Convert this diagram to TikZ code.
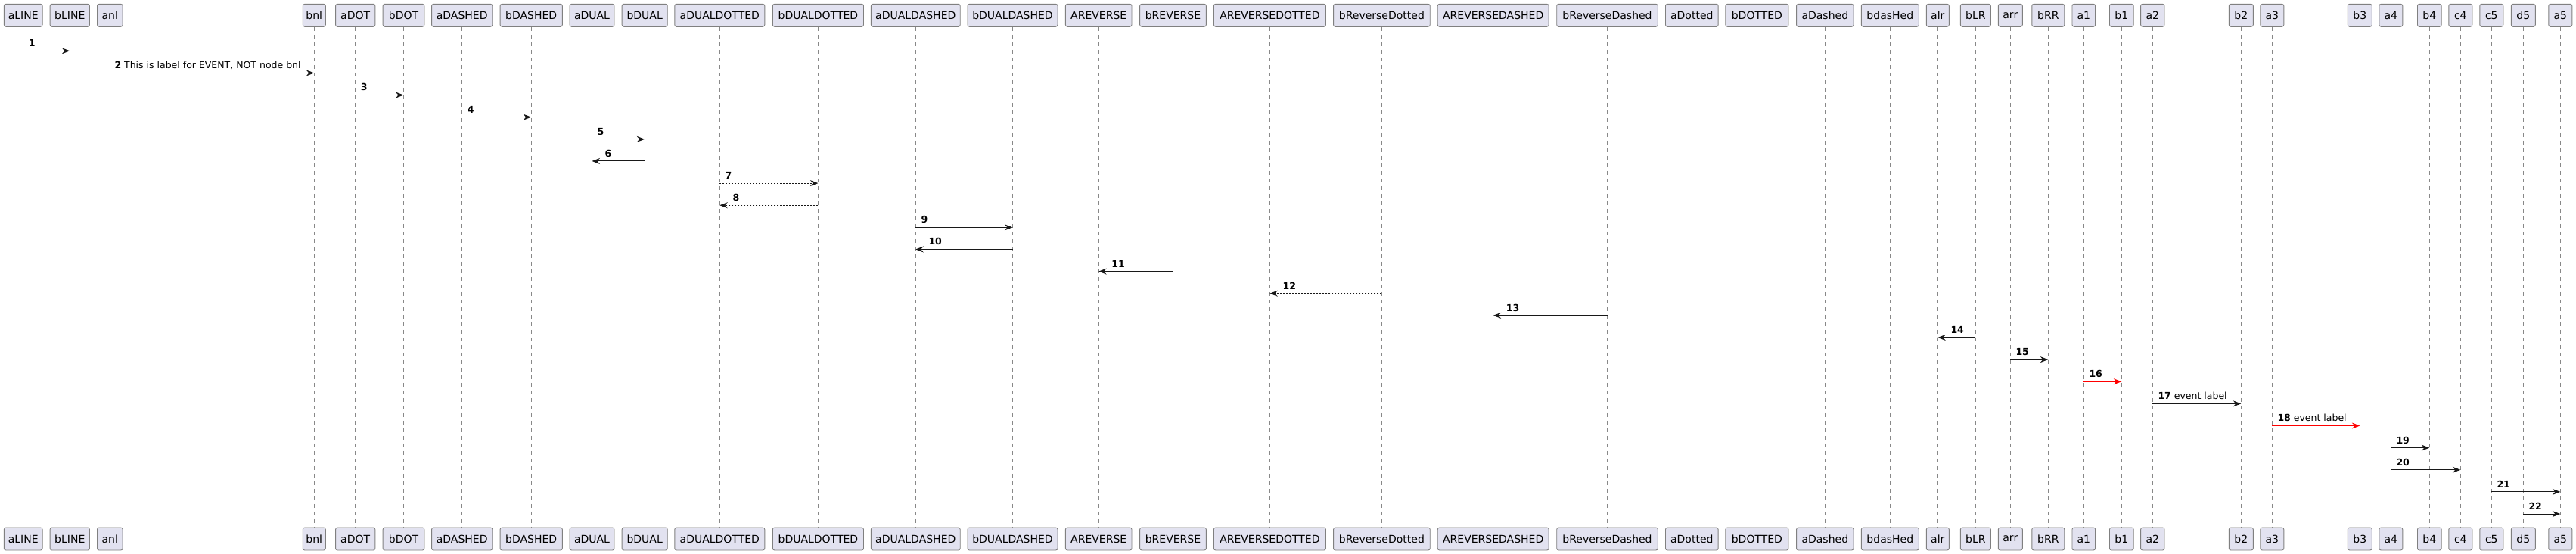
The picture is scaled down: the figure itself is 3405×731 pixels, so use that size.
\documentclass[tikz,border=0pt]{standalone}
\usepackage{fontspec}
\setmainfont{DejaVu Sans}
\usetikzlibrary{arrows.meta}
\definecolor{pfill}{HTML}{E2E2F0}
\definecolor{pborder}{HTML}{808080}
\definecolor{lline}{HTML}{888888}
\definecolor{ink}{HTML}{181818}
\definecolor{hotred}{HTML}{FF0000}
\newcommand\seqmsg[7]{%
  \pgfmathsetmacro\yy{67.3+(#1-1)*29.13}%
  \draw[#4] (top-#2.center |- 0,\yy) -- (top-#3.center |- 0,\yy);
  \node[lbl, xshift=#7pt, yshift=5.6pt] (lab#1) at (top-#6.center |- 0,\yy) {\textbf{#1}#5};
}
\begin{document}
\begin{tikzpicture}[x=1pt,y=-1pt,
  actor/.style={draw=pborder, fill=pfill, line width=0.9pt, rounded corners=2.5pt,
    minimum height=30pt, inner xsep=0pt, inner ysep=0pt,
    font=\fontsize{14}{16}\selectfont, text=black},
  lifeline/.style={draw=lline, line width=0.9pt, dash pattern=on 5pt off 5pt},
  msg/.style={draw=ink, line width=1pt, -{Stealth[length=10.5pt,width=8pt,inset=3.5pt]}},
  dotmsg/.style={msg, dash pattern=on 2pt off 2pt},
  redmsg/.style={msg, draw=hotred, fill=hotred},
  lbl/.style={anchor=base west, inner sep=0pt, font=\fontsize{12.5}{14}\selectfont, text=black}
]
\useasboundingbox (0,0) rectangle (3405,731);
\foreach \n/\x/\w in {
  aLINE/30.7/50.7, bLINE/92.3/52.3, anl/145.3/33.7, bnl/415.3/30,
  aDOT/469.7/52.3, bDOT/533.5/54.7, aDASHED/610.7/80.3, bDASHED/702.2/82.3,
  aDUAL/782.5/58.9, bDUAL/852.2/60.1, aDUALDOTTED/951.3/119, bDUALDOTTED/1081.4/120.2,
  aDUALDASHED/1210.3/117.8, bDUALDASHED/1338.5/119, AREVERSE/1452.2/87.6, bREVERSE/1550.5/87.7,
  AREVERSEDOTTED/1678.4/148.1, bReverseDotted/1826.4/127.7, AREVERSEDASHED/1973.7/146.9,
  bReverseDashed/2124.5/133.6, aDotted/2236.3/69.7, bDOTTED/2322.4/83.1, aDashed/2412.3/75.5,
  bdasHed/2498.3/76, alr/2561.3/30, bLR/2611.3/40, arr/2657.3/32, bRR/2707.3/43,
  a1/2754.3/30.7, b1/2804.3/31.7, a2/2845.3/31.4, b2/2962.3/32, a3/3003.3/31,
  b3/3119.3/32, a4/3160.3/31, b4/3211.3/31.7, c4/3252.3/31, c5/3293.3/31,
  d5/3335.3/32, a5/3384.3/31} {
  \node[actor, minimum width=\w pt] (top-\n) at (\x,20.3) {\n};
  \node[actor, minimum width=\w pt] (bot-\n) at (\x,712) {\n};
  \draw[lifeline] (top-\n.south) -- (bot-\n.north);
}
\seqmsg{1}{aLINE}{bLINE}{msg}{}{aLINE}{7}
\seqmsg{2}{anl}{bnl}{msg}{ This is label for EVENT, NOT node bnl}{anl}{6}
\seqmsg{3}{aDOT}{bDOT}{dotmsg}{}{aDOT}{7}
\seqmsg{4}{aDASHED}{bDASHED}{msg}{}{aDASHED}{7}
\seqmsg{5}{aDUAL}{bDUAL}{msg}{}{aDUAL}{7}
\seqmsg{6}{bDUAL}{aDUAL}{msg}{}{aDUAL}{17}
\seqmsg{7}{aDUALDOTTED}{bDUALDOTTED}{dotmsg}{}{aDUALDOTTED}{7}
\seqmsg{8}{bDUALDOTTED}{aDUALDOTTED}{dotmsg}{}{aDUALDOTTED}{17}
\seqmsg{9}{aDUALDASHED}{bDUALDASHED}{msg}{}{aDUALDASHED}{7}
\seqmsg{10}{bDUALDASHED}{aDUALDASHED}{msg}{}{aDUALDASHED}{17}
\seqmsg{11}{bREVERSE}{AREVERSE}{msg}{}{AREVERSE}{17}
\seqmsg{12}{bReverseDotted}{AREVERSEDOTTED}{dotmsg}{}{AREVERSEDOTTED}{17}
\seqmsg{13}{bReverseDashed}{AREVERSEDASHED}{msg}{}{AREVERSEDASHED}{17}
\seqmsg{14}{bLR}{alr}{msg}{}{alr}{17}
\seqmsg{15}{arr}{bRR}{msg}{}{arr}{7}
\seqmsg{16}{a1}{b1}{redmsg}{}{a1}{7}
\seqmsg{17}{a2}{b2}{msg}{ event label}{a2}{7}
\seqmsg{18}{a3}{b3}{redmsg}{ event label}{a3}{7}
\seqmsg{19}{a4}{b4}{msg}{}{a4}{7}
\seqmsg{20}{a4}{c4}{msg}{}{a4}{7}
\seqmsg{21}{c5}{a5}{msg}{}{c5}{7}
\seqmsg{22}{d5}{a5}{msg}{}{d5}{7}
\end{tikzpicture}
\end{document}
